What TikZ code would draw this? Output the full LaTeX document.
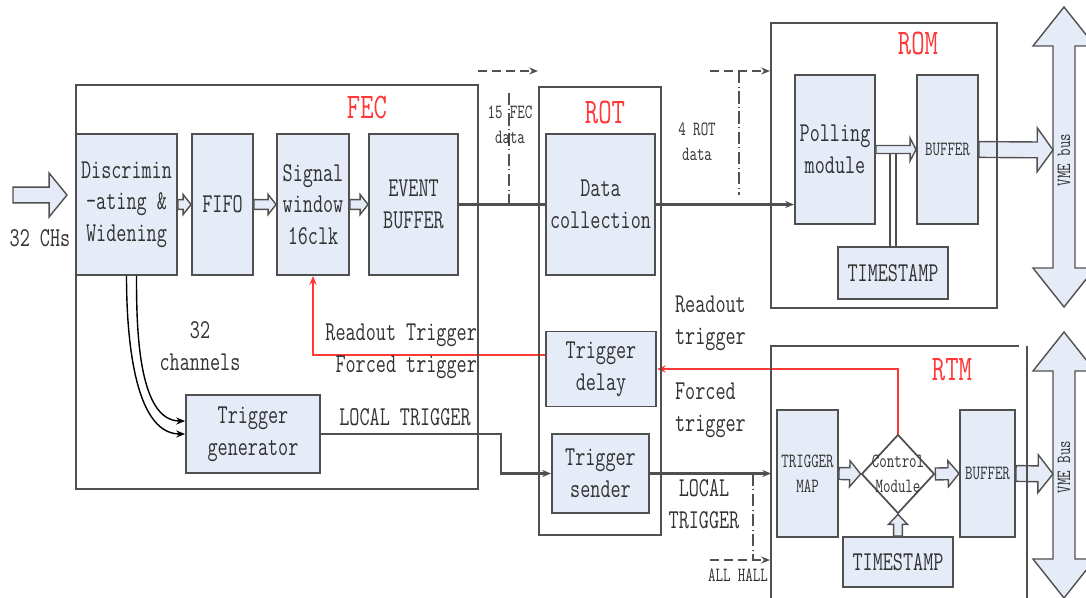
\documentclass[tikz,border=0pt]{standalone}
\usepackage{fontspec}
\setmainfont{Latin Modern Mono}[FakeStretch=0.72]
\usetikzlibrary{arrows.meta}
\usetikzlibrary{shapes.geometric, calc}

\definecolor{boxfill}{RGB}{230,236,247}
\definecolor{linegray}{RGB}{80,80,80}
\definecolor{textgray}{RGB}{50,50,50}
\definecolor{sigred}{RGB}{255,55,55}

% hollow arrow: start, end, half shaft, half head, head length
\newcommand{\fatarrow}[5]{%
  \draw[hollow] ($(#1)!#3!90:(#2)$) -- ($(#2)!#5!(#1)!#3!90:(#2)$)
    -- ($(#2)!#5!(#1)!#4!90:(#2)$) -- (#2)
    -- ($(#2)!#5!(#1)!#4!-90:(#2)$) -- ($(#2)!#5!(#1)!#3!-90:(#2)$)
    -- ($(#1)!#3!-90:(#2)$) -- cycle;}

\begin{document}
\begin{tikzpicture}[
    x=0.02cm, y=-0.02cm,
    block/.style={draw=linegray, fill=boxfill, line width=1.1pt, inner sep=1pt,
      align=center, text=textgray, font=\fontsize{15.5}{18}\selectfont},
    lbl/.style={text=textgray, inner sep=1pt, align=center, font=\fontsize{15.5}{18}\selectfont},
    smalltxt/.style={font=\fontsize{11.5}{14.2}\selectfont},
    boxtitle/.style={text=sigred, font=\fontsize{20.5}{24}\selectfont},
    framebox/.style={draw=linegray, line width=1.1pt},
    conn/.style={draw=linegray, line width=1.25pt},
    hollow/.style={draw=linegray, fill=boxfill, line width=0.8pt},
    trig/.style={draw=sigred, line width=1.3pt},
    ext/.style={draw=linegray, line width=1.1pt, dash pattern=on 5pt off 3pt},
    extv/.style={draw=linegray, line width=1.1pt, dash pattern=on 7pt off 2pt on 0.5pt off 2pt},
    >={Stealth[length=5pt,width=4pt]}
]
\useasboundingbox (0,0) rectangle (1086,598);
\clip (0,0) rectangle (1086,598);

% --- FEC blocks ---
\node[block, minimum width=2.02cm, minimum height=2.82cm] (discr) at (126.5,204.5) {Discrimin\\-ating \&\\Widening};
\node[block, minimum width=1.22cm, minimum height=2.82cm] (fifo) at (222.5,204.5) {FIFO};
\node[block, minimum width=1.44cm, minimum height=2.82cm] (sigwin) at (313,204.5) {Signal\\window\\16clk};
\node[block, minimum width=1.78cm, minimum height=2.82cm] (evbuf) at (413.5,204.5) {EVENT\\BUFFER};
\node[block, minimum width=2.68cm, minimum height=1.56cm] (trigen) at (253,434) {Trigger\\generator};

% --- ROT blocks ---
\node[block, minimum width=2.18cm, minimum height=2.82cm] (datacol) at (600.5,204.5) {Data\\collection};
\node[block, minimum width=2.2cm, minimum height=1.5cm] (trigdelay) at (601,369) {Trigger\\delay};
\node[block, minimum width=1.94cm, minimum height=1.58cm] (trigsend) at (600.5,473.5) {Trigger\\sender};

% --- ROM blocks ---
\node[block, minimum width=1.6cm, minimum height=2.98cm] (polling) at (835,149.5) {Polling\\module};
\node[block, smalltxt, minimum width=1.22cm, minimum height=2.98cm] (rombuf) at (947.5,149.5) {BUFFER};
\node[block, minimum width=2.2cm, minimum height=1.04cm] (romts) at (893,273) {TIMESTAMP};

% --- RTM blocks ---
\node[block, smalltxt, minimum width=1.22cm, minimum height=2.54cm] (trigmap) at (807.5,473.5) {TRIGGER\\MAP};
\node[diamond, draw=linegray, line width=1pt, minimum width=1.46cm, minimum height=1.58cm, inner sep=0pt] (ctrl) at (898,474) {};
\node[lbl, smalltxt] (ctrlLbl) at (ctrl) {Control\\Module};
\node[block, smalltxt, minimum width=1.1cm, minimum height=2.54cm] (rtmbuf) at (987.5,473.5) {BUFFER};
\node[block, minimum width=2.2cm, minimum height=1.0cm] (rtmts) at (898,562) {TIMESTAMP};

% --- VME buses ---
\foreach \ya/\yb in {7/307, 332/598}
{
    \draw[hollow] (1064,\ya) -- (1095,\ya+39) -- (1075,\ya+39) -- (1075,\yb-39)
      -- (1095,\yb-39) -- (1064,\yb) -- (1033,\yb-39) -- (1053,\yb-39)
      -- (1053,\ya+39) -- (1033,\ya+39) -- cycle;
}
\node[lbl, smalltxt, rotate=90] (vmeAlbl) at (1064,160) {VME bus};
\node[lbl, smalltxt, rotate=90] (vmeBlbl) at (1064,467) {VME Bus};
\coordinate (vmeAin) at (1053,150);
\coordinate (vmeBin) at (1053,474);

% --- hollow arrows ---
\coordinate (inTail) at (13,195);
\coordinate (inTip) at (67,195);
\fatarrow{inTail}{inTip}{4.5pt}{12.5pt}{10.2pt}
\foreach \src/\dst in {discr/fifo, fifo/sigwin, sigwin/evbuf}
{
    \fatarrow{\src.east}{\dst.west}{2.8pt}{5.7pt}{4.5pt}
}
\coordinate (tsjoin) at (893,154);
\draw[draw=linegray, line width=0.9pt, double, double distance=2.5pt] (romts.north) -- (tsjoin);
\fatarrow{polling.east}{rombuf.west}{2.3pt}{6.5pt}{3.4pt}
\fatarrow{rombuf.east}{vmeAin}{4.5pt}{12.5pt}{9pt}
\fatarrow{trigmap.east}{ctrl.west}{3.4pt}{7.4pt}{6.2pt}
\fatarrow{ctrl.east}{rtmbuf.west}{3.4pt}{7.4pt}{6.2pt}
\fatarrow{rtmts.north}{ctrl.south}{2.5pt}{5.4pt}{5.7pt}
\fatarrow{rtmbuf.east}{vmeBin}{4.5pt}{10.8pt}{8.5pt}

% --- data and trigger lines ---
\draw[conn] (evbuf.east) -- (datacol.west);
\draw[conn,->] (datacol.east) -- (datacol.east -| polling.west);
\draw[line width=0.8pt, ->] (discr.south) to[out=-90, in=180, looseness=0.8] (trigen.west);
\draw[line width=0.8pt, ->] ([xshift=0.2cm]discr.south) to[out=-90, in=180, looseness=0.8] ([yshift=0.26cm]trigen.west);
\draw[conn,->] (trigen.east) -| ([xshift=-1cm]trigsend.west) -- (trigsend.west);
\draw[conn,->,shorten >=2.8pt] (trigsend.east) -- (trigmap.west);
\draw[trig,->] (ctrl.north) |- (trigdelay.east);
\draw[trig,->] ([yshift=0.28cm]trigdelay.west) -| (sigwin.south);

% --- external links ---
\coordinate (fecOutA) at (478,71);
\coordinate (fecOutB) at (538,71);
\coordinate (fecTap) at (509,93);
\draw[ext,->] (fecOutA) -- (fecOutB);
\draw[extv] (fecTap) -- (fecTap |- evbuf.east);
\coordinate (rotOutA) at (710,71);
\coordinate (rotOutB) at (770,71);
\coordinate (rotTap) at (739,71);
\coordinate (rotTapEnd) at (739,195);
\draw[ext,->] (rotOutA) -- (rotOutB);
\draw[extv] (rotTap) -- (rotTapEnd);
\coordinate (hallA) at (710,560);
\coordinate (hallB) at (770,560);
\coordinate (hallTap) at (753,560);
\draw[extv] (hallTap |- trigsend.east) -- (hallTap);
\draw[ext,->] (hallA) -- (hallB);

% --- module frames ---
\draw[framebox] (76,85) rectangle (478,489);
\draw[framebox] (539,87) rectangle (661,535);
\draw[framebox] (771,23) rectangle (997,308);
\draw[framebox] (771,600) |- (1019,346);
\draw[framebox] (1027,346) -- (1027,600);
\node[boxtitle] (fecTitle) at (367,107) {FEC};
\node[boxtitle] (rotTitle) at (605,112) {ROT};
\node[boxtitle] (romTitle) at (918,43) {ROM};
\node[boxtitle] (rtmTitle) at (952,370) {RTM};

% --- labels ---
\node[lbl] (inLbl) at (40,238) {32 CHs};
\node[lbl] (chanLbl) at (200,346) {32\\channels};
\node[lbl, anchor=east, align=right] (fecTrigLbl) at (479,351) {Readout Trigger\\Forced trigger};
\node[lbl] (localLbl) at (405,417) {LOCAL TRIGGER};
\node[lbl, smalltxt] (fecDataLbl) at (510,125) {15 FEC\\data};
\node[lbl, smalltxt] (rotDataLbl) at (697,142) {4 ROT\\data};
\node[lbl, anchor=west, align=left] (rdLbl) at (673,323) {Readout\\trigger};
\node[lbl, anchor=west, align=left] (fcLbl) at (673,410) {Forced\\trigger};
\node[lbl] (rtmLocalLbl) at (704,504) {LOCAL\\TRIGGER};
\node[lbl, smalltxt] (hallLbl) at (738,575) {ALL HALL};

\end{tikzpicture}
\end{document}
